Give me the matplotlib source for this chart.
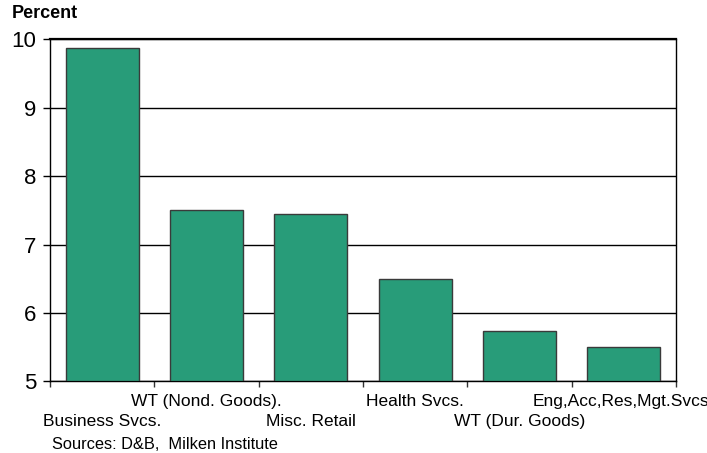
import matplotlib
matplotlib.use('Agg')
import matplotlib.pyplot as plt
from matplotlib.transforms import blended_transform_factory

plt.rcParams['font.family'] = ['Liberation Sans', 'DejaVu Sans']

industries = ['Business Svcs.', 'WT (Nond. Goods).', 'Misc. Retail',
              'Health Svcs.', 'WT (Dur. Goods)', 'Eng,Acc,Res,Mgt.Svcs.']
growth = [9.88, 7.50, 7.45, 6.50, 5.74, 5.51]
yticks = [5, 6, 7, 8, 9, 10]

fig = plt.figure(figsize=(7.07, 4.53), dpi=100)
ax = fig.add_axes([0.0707, 0.158, 0.8855, 0.755])

pos = list(range(len(industries)))
ax.bar(pos, [g - 5 for g in growth], bottom=5, width=0.7,
       color='#289c79', edgecolor='#3a3a3a', linewidth=1, zorder=3)

ax.set_ylim(5, 10)
ax.set_xlim(-0.5, len(industries) - 0.5)
ax.set_yticks(yticks)
ax.set_yticklabels([str(v) for v in yticks], fontsize=16)
ax.yaxis.grid(True, color='black', linewidth=1)
ax.set_axisbelow(True)

# ticks on category boundaries, labels drawn separately in two rows
ax.set_xticks([p - 0.5 for p in pos] + [len(pos) - 0.5])
ax.set_xticklabels([])
ax.tick_params(axis='x', direction='out', length=4, width=1, color='#333333')
ax.tick_params(axis='y', direction='out', length=5, width=1, pad=5)
for s in ax.spines.values():
    s.set_linewidth(1)
ax.spines['top'].set_linewidth(1.6)

tr = blended_transform_factory(ax.transData, ax.transAxes)
for i, name in enumerate(industries):
    y = -0.095 if i % 2 == 0 else -0.036
    ax.text(i, y, name, transform=tr, ha='center', va='top', fontsize=12.5,
            clip_on=False)

fig.text(0.017, 0.952, 'Percent', fontsize=13, fontweight='bold',
         va='bottom', ha='left')
fig.text(0.073, 0.003, 'Sources: D&B,  Milken Institute', fontsize=11.8,
         va='bottom', ha='left')

fig.savefig('out.png', dpi=100)
